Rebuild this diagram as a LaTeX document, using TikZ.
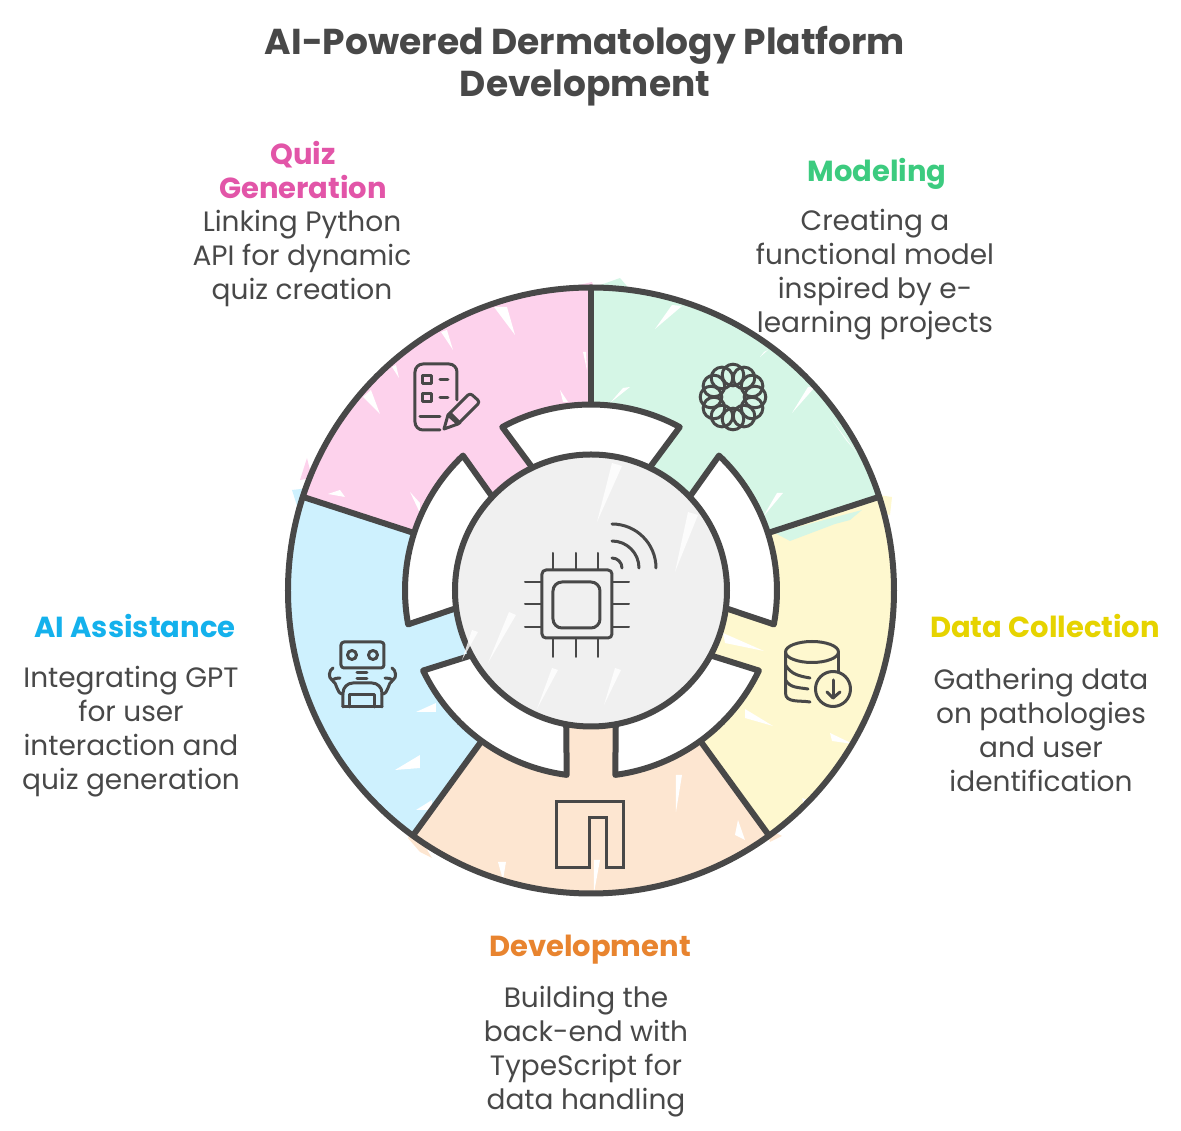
\documentclass[tikz,border=0pt]{standalone}
\usepackage{fontspec}
\setmainfont{Poppins}
\definecolor{inkgray}{HTML}{484848}
\definecolor{quizpink}{HTML}{FDD2EC}
\definecolor{modelgreen}{HTML}{D5F6E6}
\definecolor{datayellow}{HTML}{FEF8CF}
\definecolor{devorange}{HTML}{FDE6D1}
\definecolor{aiblue}{HTML}{CEF1FE}
\definecolor{coregray}{HTML}{F0F0F0}
\definecolor{headpink}{HTML}{E255A8}
\definecolor{headgreen}{HTML}{3CCB7F}
\definecolor{headyellow}{HTML}{E6D300}
\definecolor{headorange}{HTML}{E8842F}
\definecolor{headblue}{HTML}{14B1EC}
\tikzset{
  bodytext/.style = {text = inkgray, align = center, font = \fontsize{28}{34}\selectfont},
  headtext/.style = {align = center, font = \fontsize{29}{34}\selectfont\bfseries},
  ringline/.style = {draw = inkgray, line width = 6pt, line join = round},
  iconline/.style = {draw = inkgray, line width = 3pt, line cap = round, line join = round},
  pixels/.style = {shift = {(-591,590.5)}, yscale = -1}
}
\begin{document}
\begin{tikzpicture}[x = 1pt, y = 1pt]
\useasboundingbox (-591,-540.5) rectangle (590,590.5);

% colour that runs over the outline
\begin{scope}[pixels]
\fill[modelgreen] (592,288) -- (620,278) -- (632,292) -- (592,300) -- cycle;
\fill[modelgreen] (590,385) -- (580,394) -- (590,411) -- cycle;
\fill[quizpink] (575,286) -- (592,282) -- (598,300) -- (590,300) -- cycle;
\fill[quizpink] (590,305) -- (598,313) -- (590,326) -- cycle;
\fill[datayellow] (878,495) -- (892,497) -- (890,515) -- (870,510) -- cycle;
\fill[aiblue] (292,490) -- (310,488) -- (300,515) -- cycle;
\fill[quizpink] (307,458) -- (300,480) -- (312,478) -- cycle;
\fill[devorange] (408,838) -- (420,852) -- (432,858) -- (414,828) -- cycle;
\fill[devorange] (770,842) -- (782,836) -- (766,828) -- cycle;
\end{scope}

% sectors
\foreach \a/\col in {18/modelgreen, 90/quizpink, 162/aiblue, 234/devorange, 306/datayellow}
  \fill[\col] (0,0) -- (\a:303) arc[start angle = \a, delta angle = 72, radius = 303] -- cycle;

\begin{scope}[pixels]
\fill[modelgreen] (775,533) -- (790,541) -- (835,524) -- (850,520) -- (862,510) -- cycle;
% white streaks of the fill
\foreach \ax/\ay/\bx/\by/\cx/\cy in {
  494/307/507/307/515/335, 441/332/447/330/453/350, 392/367/396/365/399/378, 363/397/371/390/380/414,
  410/492/420/503/420/513, 560/390/568/402/563/402, 583/352/587/370/586/352, 328/494/345/497/340/490,
  655/329/672/305/682/306, 610/403/630/387/623/388, 792/413/815/387/808/387, 763/517/783/493/777/493,
  832/420/856/452/846/440, 760/357/768/350/764/352,
  723/633/764/651/725/643, 745/709/773/726/745/718, 830/733/853/744/832/741, 802/798/820/805/804/804,
  416/712/436/703/436/712, 416/810/432/800/432/810, 395/770/420/755/420/768,
  676/775/676/812/682/775, 738/820/745/840/735/835, 594/860/594/893/600/860, 498/862/503/880/506/862}
  \fill[white] (\ax,\ay) -- (\bx,\by) -- (\cx,\cy) -- cycle;
\end{scope}

% outer ring and dividers
\draw[ringline] (0,0) circle (303);
\foreach \a in {18, 90, 162, 234, 306}
  \draw[ringline] (\a:186) -- (\a:303);

% white segments round the core
\foreach \a in {18, 90, 162, 234, 306}
  \filldraw[ringline, fill = white] (\a-25.5:136) -- (\a-28.5:186)
    arc[start angle = \a-28.5, delta angle = 57, radius = 186] -- (\a+25.5:136) -- cycle;

% core
\filldraw[ringline, fill = coregray] (0,0) circle (136);

\begin{scope}[pixels]
\foreach \ax/\ay/\bx/\by/\cx/\cy in {
  612/463/622/466/597/522, 688/512/698/515/675/572, 509/612/516/615/488/663,
  552/668/558/670/537/709, 615/668/621/670/604/705, 472/630/478/632/462/660}
  \fill[white, opacity = .8] (\ax,\ay) -- (\bx,\by) -- (\cx,\cy) -- cycle;

% chip
\draw[iconline, rounded corners = 4pt] (542,570) rectangle (612,638);
\draw[iconline, rounded corners = 9pt] (553,582) rectangle (600,628);
\foreach \x in {553, 576, 598} {
  \draw[iconline, line width = 2pt] (\x,553) -- (\x,570);
  \draw[iconline, line width = 2pt] (\x,638) -- (\x,657);
}
\foreach \y in {582, 604.5, 627} {
  \draw[iconline, line width = 2pt] (525,\y) -- (542,\y);
  \draw[iconline, line width = 2pt] (612,\y) -- (629,\y);
}
\foreach \r in {10, 27, 44}
  \draw[iconline] (612,568-\r) arc[start angle = -90, delta angle = 90, radius = \r];

% quiz sheet and pencil
\draw[iconline, rounded corners = 8pt] (457,400) -- (457,364) -- (415,364) -- (415,430) -- (440,430);
\draw[iconline] (420,417) -- (440,417);
\draw[iconline] (423,376) rectangle (432,384);
\draw[iconline] (423,394) rectangle (432,402);
\draw[iconline] (440,380) -- (448,380);
\draw[iconline] (440,398) -- (448,398);
\draw[iconline, rounded corners = 3pt] (448,415) -- (470,393) -- (480,402) -- (458,424);
\draw[iconline] (448,415) -- (444,429) -- (458,424) -- cycle;
\draw[iconline] (450,413) -- (460,423);

% flower
\foreach \a in {0, 30, ..., 330}
  \draw[iconline] (733,397) ++(\a:22) circle (10.8);

% robot
\draw[iconline, rounded corners = 3pt] (341,642) rectangle (384,668);
\draw[iconline] (352,655) circle (4.5);
\draw[iconline] (373,655) circle (4.5);
\draw[iconline] (357,673) -- (367,673);
\draw[iconline] (357,679) -- (367,679);
\draw[iconline, rounded corners = 10pt] (343,707) -- (343,683) -- (382,683) -- (382,707);
\draw[iconline] (343,707) -- (382,707);
\draw[iconline] (350,707) -- (350,695) -- (375,695) -- (375,707);
\foreach \s/\x in {1/0, -1/725} {
  \begin{scope}[shift = {(\x,0)}, xscale = \s]
  \draw[iconline] (333,668) to[out = 150, in = 210] (332,680) to[out = 30, in = 180] (343,694);
  \draw[iconline] (332,680) to[out = -30, in = 180] (340,678);
  \end{scope}
}

% database
\draw[iconline] (812,652) ellipse (26.5 and 10.5);
\draw[iconline] (785.5,652) -- (785.5,693) to[out = 90, in = 190] (810,702);
\draw[iconline] (785.5,665) to[out = 60, in = 190] (810,678);
\draw[iconline] (785.5,680) to[out = 60, in = 190] (808,689);
\draw[iconline] (838.5,652) -- (838.5,672);
\draw[iconline] (833,689) circle (17.5);
\draw[iconline] (833,680) -- (833,698);
\draw[iconline] (827,692) -- (833,698) -- (840,692);

% bridge
\draw[iconline, line join = miter] (557,802) -- (624,802) -- (624,868) -- (607,868) -- (607,818)
  -- (590,818) -- (590,868) -- (557,868) -- cycle;
\end{scope}

% texts
\node[bodytext, font = \fontsize{36}{42}\selectfont\bfseries] (chartTitle) at (-6,524.5)
  {AI-Powered Dermatology Platform\\Development};
\node[headtext, text = headpink] (quizHead) at (-288,420.5) {Quiz\\Generation};
\node[bodytext] (quizBody) at (-289,332.5) {Linking Python\\API for dynamic\\quiz creation};
\node[headtext, text = headgreen] (modelHead) at (286,416.5) {Modeling};
\node[bodytext] (modelBody) at (284,315.5) {Creating a\\functional model\\inspired by e-\\learning projects};
\node[headtext, text = headyellow] (dataHead) at (454,-35.5) {Data Collection};
\node[bodytext] (dataBody) at (450,-139) {Gathering data\\on pathologies\\and user\\identification};
\node[headtext, text = headblue] (aiHead) at (-456,-35.5) {AI Assistance};
\node[bodytext] (aiBody) at (-460,-141) {Integrating GPT\\for user\\interaction and\\quiz generation};
\node[headtext, text = headorange] (devHead) at (-1,-359.5) {Development};
\node[bodytext] (devBody) at (-5,-461.5) {Building the\\back-end with\\TypeScript for\\data handling};
\end{tikzpicture}
\end{document}
